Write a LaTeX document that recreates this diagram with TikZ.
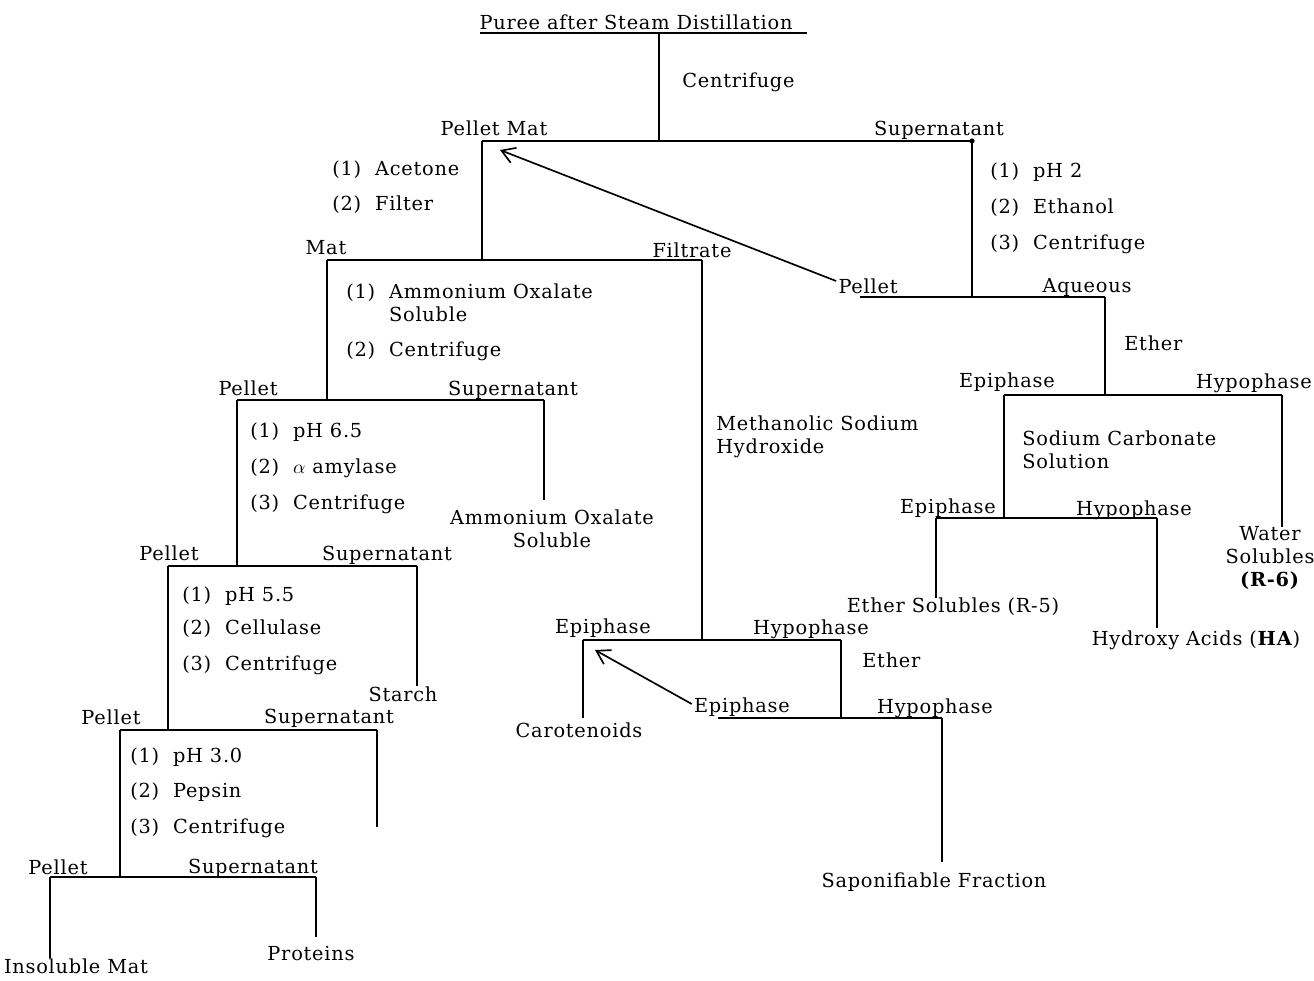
\documentclass[tikz,border=0pt]{standalone}
\usepackage{fontspec}
\setmainfont{DejaVu Serif}[LetterSpace=4]
\usetikzlibrary{arrows.meta}
\begin{document}
\begin{tikzpicture}[x=0.02cm,y=-0.02cm,
  every node/.style={inner sep=0pt,font=\fontsize{11pt}{13pt}\selectfont},
  lbl/.style={anchor=center},
  stp/.style={anchor=west},
  ln/.style={line width=0.95pt},
  arr/.style={line width=0.95pt,-{Straight Barb[length=2.6mm,width=3.2mm]}}]
\useasboundingbox (0,0) rectangle (1314,980);

% ---------- coordinates ----------
\coordinate (u1) at (480,33);  \coordinate (u2) at (807,33);
\coordinate (c0) at (659,33);  \coordinate (c1) at (659,141);
\coordinate (h1L) at (482,141); \coordinate (h1R) at (972,141);
\coordinate (m1) at (482,260);
\coordinate (h2L) at (327,260); \coordinate (h2R) at (702,260);
\coordinate (s1) at (972,297);
\coordinate (h3L) at (860,297); \coordinate (h3R) at (1105,297);
\coordinate (a1) at (1105,395);
\coordinate (h4L) at (1004,395); \coordinate (h4R) at (1282,395);
\coordinate (w6) at (1282,527);
\coordinate (n5) at (1004,518);
\coordinate (h5L) at (936,518); \coordinate (h5R) at (1157,518);
\coordinate (e5) at (936,598); \coordinate (ha) at (1157,628);
\coordinate (k1) at (327,400);
\coordinate (h6L) at (237,400); \coordinate (h6R) at (544,400);
\coordinate (ao) at (544,500);
\coordinate (k2) at (237,566);
\coordinate (h7L) at (168,566); \coordinate (h7R) at (417,566);
\coordinate (st) at (417,686);
\coordinate (k3) at (168,730);
\coordinate (h8L) at (120,730); \coordinate (h8R) at (377,730);
\coordinate (cel) at (377,827);
\coordinate (k4) at (120,877);
\coordinate (h9L) at (50,877); \coordinate (h9R) at (316,877);
\coordinate (im) at (50,958); \coordinate (pr) at (316,937);
\coordinate (f1) at (702,640);
\coordinate (h10L) at (583,640); \coordinate (h10R) at (841,640);
\coordinate (car) at (583,718);
\coordinate (f2) at (841,718);
\coordinate (h11L) at (718,718); \coordinate (h11R) at (942,718);
\coordinate (sap) at (942,862);
\coordinate (tip1) at (500,150);
\coordinate (tip2) at (595,650);

% ---------- labels ----------
\node[lbl] (puree) at (636,22) {Puree after Steam Distillation};
\node[stp] (cent0) at (682,82) {Centrifuge};
\node[lbl] (pmat) at (494,128) {Pellet Mat};
\node[lbl] (sup1) at (939,130) {Supernatant};
\node[stp] (ac1) at (332,170) {(1)\ \ Acetone};
\node[stp] (ac2) at (332,205) {(2)\ \ Filter};
\node[stp] (ph21) at (990,172) {(1)\ \ pH 2};
\node[stp] (ph22) at (990,208) {(2)\ \ Ethanol};
\node[stp] (ph23) at (990,244) {(3)\ \ Centrifuge};
\node[lbl] (mat) at (326,248) {Mat};
\node[lbl] (filt) at (692,250) {Filtrate};
\node[lbl] (pel3) at (868,286) {Pellet};
\node[lbl] (aq) at (1087,287) {Aqueous};
\node[stp] (eth1) at (1124,343) {Ether};
\node[lbl] (epi1) at (1007,382) {Epiphase};
\node[lbl] (hyp1) at (1254,383) {Hypophase};
\node[stp,align=left] (sodc) at (1022,450) {Sodium Carbonate\\Solution};
\node[lbl] (epi2) at (948,508) {Epiphase};
\node[lbl] (hyp2) at (1134,510) {Hypophase};
\node[lbl] (es) at (953,607) {Ether Solubles (R-5)};
\node[lbl] (hacid) at (1196,640) {Hydroxy Acids (\textbf{HA})};
\node[lbl,align=center] (ws) at (1270,558) {Water\\Solubles\\\textbf{(R-6)}};
\node[stp,align=left] (amox1) at (346,303) {(1)\ \ Ammonium Oxalate\\\hphantom{(1)\ \ }Soluble};
\node[stp] (amox2) at (346,351) {(2)\ \ Centrifuge};
\node[lbl] (pel4) at (248,388) {Pellet};
\node[lbl] (sup4) at (513,390) {Supernatant};
\node[lbl,align=center] (aos) at (552,529) {Ammonium Oxalate\\Soluble};
\node[stp] (am1) at (250,432) {(1)\ \ pH 6.5};
\node[stp] (am2) at (250,468) {(2)\ \ $\alpha$ amylase};
\node[stp] (am3) at (250,504) {(3)\ \ Centrifuge};
\node[lbl] (pel5) at (169,553) {Pellet};
\node[lbl] (sup5) at (387,555) {Supernatant};
\node[stp] (ce1) at (182,596) {(1)\ \ pH 5.5};
\node[stp] (ce2) at (182,629) {(2)\ \ Cellulase};
\node[stp] (ce3) at (182,665) {(3)\ \ Centrifuge};
\node[lbl] (starch) at (403,694) {Starch};
\node[lbl] (pel6) at (111,717) {Pellet};
\node[lbl] (sup6) at (329,718) {Supernatant};
\node[stp] (pe1) at (130,757) {(1)\ \ pH 3.0};
\node[stp] (pe2) at (130,792) {(2)\ \ Pepsin};
\node[stp] (pe3) at (130,828) {(3)\ \ Centrifuge};
\node[lbl] (pel7) at (58,867) {Pellet};
\node[lbl] (sup7) at (253,868) {Supernatant};
\node[lbl] (insm) at (76,966) {Insoluble Mat};
\node[lbl] (prot) at (311,954) {Proteins};
\node[stp,align=left] (meth) at (716,437) {Methanolic Sodium\\Hydroxide};
\node[lbl] (epi3) at (603,628) {Epiphase};
\node[lbl] (hyp3) at (811,629) {Hypophase};
\node[lbl] (caro) at (579,730) {Carotenoids};
\node[stp] (eth2) at (862,660) {Ether};
\node[lbl] (epi4) at (742,707) {Epiphase};
\node[lbl] (hyp4) at (935,708) {Hypophase};
\node[lbl] (sapf) at (934,882) {Saponifiable Fraction};

% ---------- lines ----------
\draw[ln] (u1) -- (u2);
\draw[ln] (c0) -- (c1);
\draw[ln] (h1L) -- (h1R);
\fill (h1R) circle (2.6);
\draw[ln] (h1L) -- (m1);
\draw[ln] (h2L) -- (h2R);
\draw[ln] (h1R) -- (s1);
\draw[ln] (h3L) -- (h3R);
\draw[ln] (h3R) -- (a1);
\draw[ln] (h4L) -- (h4R);
\draw[ln] (h4R) -- (w6);
\draw[ln] (h4L) -- (n5);
\draw[ln] (h5L) -- (h5R);
\draw[ln] (h5L) -- (e5);
\draw[ln] (h5R) -- (ha);
\draw[ln] (h2L) -- (k1);
\draw[ln] (h6L) -- (h6R);
\draw[ln] (h6R) -- (ao);
\draw[ln] (h6L) -- (k2);
\draw[ln] (h7L) -- (h7R);
\draw[ln] (h7R) -- (st);
\draw[ln] (h7L) -- (k3);
\draw[ln] (h8L) -- (h8R);
\draw[ln] (h8R) -- (cel);
\draw[ln] (h8L) -- (k4);
\draw[ln] (h9L) -- (h9R);
\draw[ln] (h9L) -- (im);
\draw[ln] (h9R) -- (pr);
\draw[ln] (h2R) -- (f1);
\draw[ln] (h10L) -- (h10R);
\draw[ln] (h10L) -- (car);
\draw[ln] (h10R) -- (f2);
\draw[ln] (h11L) -- (h11R);
\draw[ln] (h11R) -- (sap);

% ---------- arrows ----------
\draw[arr] (pel3.west) ++(-2,-5) coordinate (a1s) (a1s) -- (tip1);
\draw[arr] (epi4.west) ++(-2,-3) coordinate (a2s) (a2s) -- (tip2);
\end{tikzpicture}
\end{document}
